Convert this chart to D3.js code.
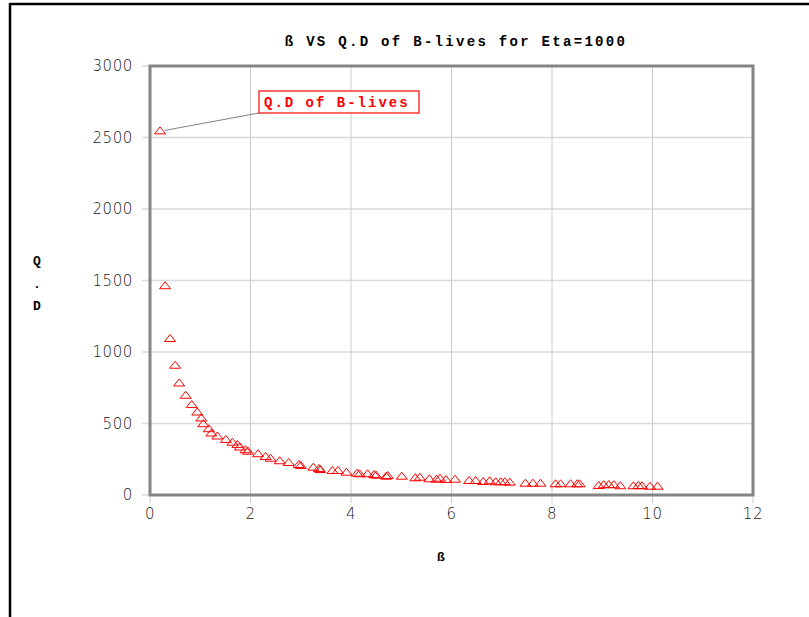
<!DOCTYPE html>
<html>
<head>
<meta charset="utf-8">
<script src="https://cdn.jsdelivr.net/npm/d3@7"></script>
<style>
  body { margin: 0; background: #fff; }
</style>
</head>
<body>
<div id="chart"></div>
<script>
// Beta values and quantile deviation of B-lives
const beta = [
  0.20, 0.30, 0.40, 0.50, 0.58, 0.71, 0.83, 0.94, 1.02, 1.06,
  1.17, 1.22, 1.34, 1.51, 1.64, 1.74, 1.79, 1.90, 1.95, 2.15,
  2.30, 2.40, 2.58, 2.76, 2.96, 3.00, 3.25, 3.36, 3.39, 3.63,
  3.74, 3.91, 4.12, 4.17, 4.33, 4.46, 4.50, 4.70, 4.73, 5.01,
  5.28, 5.37, 5.56, 5.70, 5.77, 5.89, 6.07, 6.35, 6.48, 6.63,
  6.76, 6.88, 6.98, 7.06, 7.16, 7.47, 7.62, 7.77, 8.07, 8.17,
  8.37, 8.50, 8.55, 8.93, 9.03, 9.13, 9.23, 9.36, 9.62, 9.72,
  9.79, 9.95, 10.10
];
const qd = [
  2550, 1467, 1098, 911, 787, 701, 636, 584, 542, 502,
  467, 437, 416, 392, 373, 357, 339, 320, 310, 292,
  273, 261, 243, 231, 217, 210, 198, 189, 182, 175,
  175, 163, 156, 152, 152, 147, 142, 135, 140, 135,
  124, 128, 117, 114, 121, 112, 114, 105, 105, 98,
  103, 96, 96, 96, 93, 86, 86, 86, 82, 82,
  82, 82, 82, 70, 75, 77, 75, 68, 68, 70,
  68, 65, 65
];
const xTicks = [0, 2, 4, 6, 8, 10, 12];
const yTicks = [0, 500, 1000, 1500, 2000, 2500, 3000];
const title = "ß VS Q.D of B-lives for Eta=1000";
const seriesName = "Q.D of B-lives";

const width = 809, height = 617;
const plot = { left: 150, right: 753, top: 66, bottom: 495 };

const svg = d3.select("#chart").append("svg")
  .attr("width", width)
  .attr("height", height);

// outer frame (top and left edges only are visible)
svg.append("line")
  .attr("x1", 10).attr("x2", width).attr("y1", 4).attr("y2", 4)
  .attr("stroke", "#000").attr("stroke-width", 2.5);
svg.append("line")
  .attr("x1", 10).attr("x2", 10).attr("y1", 3).attr("y2", height)
  .attr("stroke", "#000").attr("stroke-width", 2.5);

const x = d3.scaleLinear().domain([0, 12]).range([plot.left, plot.right]);
const y = d3.scaleLinear().domain([0, 3000]).range([plot.bottom, plot.top]);

// gridlines
svg.append("g").selectAll("line")
  .data(yTicks)
  .join("line")
  .attr("x1", plot.left - 8).attr("x2", plot.right)
  .attr("y1", d => y(d)).attr("y2", d => y(d))
  .attr("stroke", "#dadada").attr("stroke-width", 1.5);

svg.append("g").selectAll("line")
  .data(xTicks)
  .join("line")
  .attr("x1", d => x(d)).attr("x2", d => x(d))
  .attr("y1", plot.top).attr("y2", plot.bottom + 8)
  .attr("stroke", "#cccccc").attr("stroke-width", 1);

// plot border
svg.append("rect")
  .attr("x", plot.left).attr("y", plot.top)
  .attr("width", plot.right - plot.left)
  .attr("height", plot.bottom - plot.top)
  .attr("fill", "none")
  .attr("stroke", "#858585")
  .attr("stroke-width", 3);

// tick labels
const tickFont = "'DejaVu Sans', sans-serif";
svg.append("g").selectAll("text")
  .data(yTicks)
  .join("text")
  .attr("x", plot.left - 17)
  .attr("y", d => y(d))
  .attr("dy", "0.36em")
  .attr("text-anchor", "end")
  .style("font-family", tickFont)
  .style("font-weight", 200)
  .style("font-size", "15px")
  .style("letter-spacing", "0.6px")
  .style("fill", "#222")
  .text(d => d);

svg.append("g").selectAll("text")
  .data(xTicks)
  .join("text")
  .attr("x", d => x(d))
  .attr("y", plot.bottom + 24)
  .attr("text-anchor", "middle")
  .style("font-family", tickFont)
  .style("font-weight", 200)
  .style("font-size", "15px")
  .style("letter-spacing", "0.6px")
  .style("fill", "#222")
  .text(d => d);

// titles
const mono = "'Liberation Mono', 'DejaVu Sans Mono', monospace";
svg.append("text")
  .attr("x", 456).attr("y", 46)
  .attr("text-anchor", "middle")
  .style("font-family", mono)
  .style("font-weight", "bold")
  .style("font-size", "14px")
  .style("letter-spacing", "2.3px")
  .style("fill", "#000")
  .text(title);

svg.append("g").selectAll("text")
  .data(["Q", ".", "D"])
  .join("text")
  .attr("x", 37)
  .attr("y", (d, i) => 265 + i * 22.5)
  .attr("text-anchor", "middle")
  .style("font-family", mono)
  .style("font-weight", "bold")
  .style("font-size", "13px")
  .style("fill", "#000")
  .text(d => d);

svg.append("text")
  .attr("x", 441).attr("y", 561)
  .attr("text-anchor", "middle")
  .style("font-family", mono)
  .style("font-weight", "bold")
  .style("font-size", "13px")
  .style("fill", "#000")
  .text("ß");

// data markers: hollow flattened triangles
const tri = "M-5.5,3.5L0,-3.5L5.5,3.5Z";
const points = beta.map((b, i) => ({ b: b, q: qd[i] }));

svg.append("g").selectAll("path")
  .data(points)
  .join("path")
  .attr("d", tri)
  .attr("transform", d => `translate(${x(d.b)}, ${y(d.q)})`)
  .attr("fill", "none")
  .attr("stroke", "#ff0000")
  .attr("stroke-width", 1);

// series label with leader line to the first point
const first = points[0];
const box = { x: 259, y: 91, w: 160, h: 22 };

svg.append("line")
  .attr("x1", x(first.b) + 5).attr("y1", y(first.q))
  .attr("x2", box.x).attr("y2", box.y + box.h)
  .attr("stroke", "#808080").attr("stroke-width", 1);

svg.append("rect")
  .attr("x", box.x).attr("y", box.y)
  .attr("width", box.w).attr("height", box.h)
  .attr("fill", "#fff")
  .attr("stroke", "#ff0000")
  .attr("stroke-width", 1.2);

svg.append("text")
  .attr("x", box.x + 5).attr("y", box.y + 16)
  .style("font-family", mono)
  .style("font-weight", "bold")
  .style("font-size", "14px")
  .style("letter-spacing", "2px")
  .style("fill", "#ff0000")
  .text(seriesName);
</script>
</body>
</html>
